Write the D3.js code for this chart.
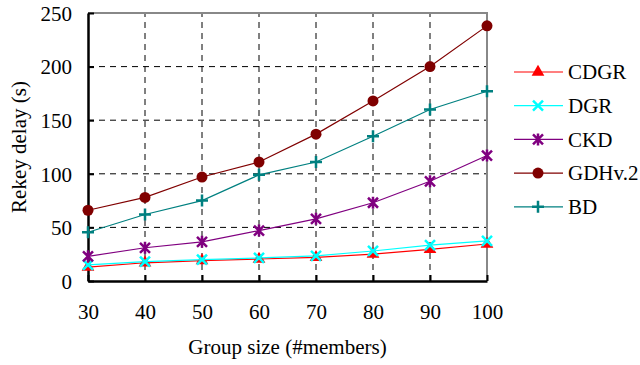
<!DOCTYPE html>
<html>
<head>
<meta charset="utf-8">
<script src="https://cdn.jsdelivr.net/npm/d3@7"></script>
</head>
<body style="margin:0">
<svg id="chart" width="640" height="365"></svg>
<script>
// group sizes on the x axis
var groupSizes = [30, 40, 50, 60, 70, 80, 90, 100]

// rekey delay (s) for each scheme
var cdgr = [13, 17, 19, 20.5, 22, 25, 29.5, 34.5]
var dgr = [15, 18, 20, 21.5, 23.5, 28, 33.5, 37.5]
var ckd = [23, 31, 36.5, 47, 58, 73, 93, 117]
var gdh = [66, 78, 97, 111, 137, 168, 200, 238]
var bd = [45.5, 62, 75, 99, 111, 135, 160, 177]

var seriesNames = ["CDGR", "DGR", "CKD", "GDHv.2", "BD"]
var yTicks = [0, 50, 100, 150, 200, 250]

var width = 640
var height = 365
var margin = {left: 88, right: 153, top: 13, bottom: 84}
var font = "Liberation Serif"

var svg = d3.select("#chart")

var x = d3.scaleLinear().domain([30, 100]).range([margin.left, width - margin.right])
var y = d3.scaleLinear().domain([0, 250]).range([height - margin.bottom, margin.top])

var series = [
  {name: seriesNames[0], values: cdgr, color: "#ff0000", marker: "triangle"},
  {name: seriesNames[1], values: dgr, color: "#00ffff", marker: "cross"},
  {name: seriesNames[2], values: ckd, color: "#800080", marker: "star"},
  {name: seriesNames[3], values: gdh, color: "#800000", marker: "circle"},
  {name: seriesNames[4], values: bd, color: "#008080", marker: "plus"}
]

// dashed grid, vertical then horizontal
var grid = svg.append("g")
  .attr("fill", "none").attr("stroke", "#000").attr("stroke-width", 1).attr("stroke-dasharray", "6,5")
groupSizes.slice(1, -1).forEach(function(d){
  grid.append("path").attr("d", "M" + x(d) + "," + y(0) + "V" + y(250))
})
yTicks.slice(1, -1).forEach(function(d){
  grid.append("path").attr("d", "M" + x(30) + "," + y(d) + "H" + x(100))
})

// grey top and right frame
svg.append("path")
  .attr("d", "M" + x(30) + "," + y(250) + "H" + x(100) + "V" + y(0))
  .attr("fill", "none").attr("stroke", "#888").attr("stroke-width", 2)

// axes
var xAxis = svg.append("g")
  .attr("transform", "translate(0," + y(0) + ")")
  .call(d3.axisBottom(x).tickValues(groupSizes).tickSize(-6).tickPadding(23).tickSizeOuter(0))
var yAxis = svg.append("g")
  .attr("transform", "translate(" + x(30) + ",0)")
  .call(d3.axisLeft(y).tickValues(yTicks).tickSize(-6).tickPadding(16).tickSizeOuter(0))

;[xAxis, yAxis].forEach(function(a){
  a.select(".domain").attr("stroke", "#000").attr("stroke-width", 2.5)
  a.selectAll(".tick line").attr("stroke", "#000").attr("stroke-width", 2)
  a.selectAll(".tick text")
    .attr("font-family", font).attr("font-size", 21).attr("fill", "#000")
})
yAxis.selectAll(".tick text").attr("dy", "0.35em")

// axis titles
svg.append("text")
  .attr("x", (x(30) + x(100)) / 2).attr("y", 354)
  .attr("text-anchor", "middle").attr("font-family", font).attr("font-size", 21)
  .text("Group size (#members)")
svg.append("text")
  .attr("transform", "translate(26," + y(125) + ") rotate(-90)")
  .attr("text-anchor", "middle").attr("font-family", font).attr("font-size", 21)
  .text("Rekey delay (s)")

// marker drawing
function drawMarker(g, type, color) {
  if (type == "triangle") {
    g.append("path").attr("d", d3.symbol().type(d3.symbolTriangle).size(70)()).attr("fill", color)
  } else if (type == "circle") {
    g.append("circle").attr("r", 5.5).attr("fill", color)
  } else if (type == "cross") {
    g.append("path").attr("d", "M-5,-5L5,5M-5,5L5,-5").attr("stroke", color).attr("stroke-width", 2.5)
  } else if (type == "star") {
    g.append("path").attr("d", "M-5,-5L5,5M-5,5L5,-5M0,-6V6").attr("stroke", color).attr("stroke-width", 2.5)
  } else if (type == "plus") {
    g.append("path").attr("d", "M-6,0H6M0,-6V6").attr("stroke", color).attr("stroke-width", 2.5)
  }
}

var line = d3.line()
  .x((d, i) => x(groupSizes[i]))
  .y(d => y(d))

series.forEach(function(s){
  svg.append("path")
    .datum(s.values)
    .attr("d", line)
    .attr("fill", "none")
    .attr("stroke", s.color)
    .attr("stroke-width", 1.2)
  s.values.forEach(function(v, i){
    var g = svg.append("g").attr("transform", "translate(" + x(groupSizes[i]) + "," + y(v) + ")")
    drawMarker(g, s.marker, s.color)
  })
})

// legend
var legend = svg.append("g").attr("transform", "translate(514,72)")
series.forEach(function(s, i){
  var row = legend.append("g").attr("transform", "translate(0," + (i * 33.7) + ")")
  row.append("line").attr("x1", 0).attr("x2", 49).attr("stroke", s.color).attr("stroke-width", 1.2)
  drawMarker(row.append("g").attr("transform", "translate(24,0)"), s.marker, s.color)
  row.append("text").attr("x", 54).attr("dy", "0.35em")
    .attr("font-family", font).attr("font-size", 21).text(s.name)
})
</script>
</body>
</html>
